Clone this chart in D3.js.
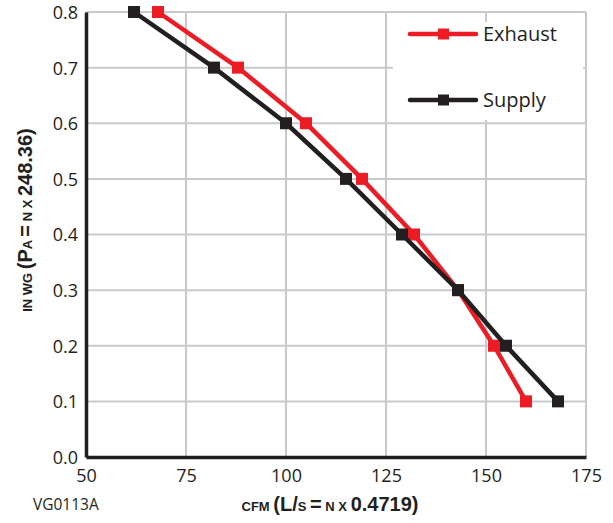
<!DOCTYPE html>
<html>
<head>
<meta charset="utf-8">
<script src="https://cdn.jsdelivr.net/npm/d3@7"></script>
<style>
  body { margin: 0; background: #fff; }
  text { font-family: "Open Sans", "Noto Sans", sans-serif; fill: #231f20; }
  .title { font-family: "Liberation Sans", Arial, sans-serif; font-weight: bold; }
</style>
</head>
<body>
<div id="chart"></div>
<script>
// values
var pressure = [0.8, 0.7, 0.6, 0.5, 0.4, 0.3, 0.2, 0.1];
var exhaustCfm = [68, 88, 105, 119, 132, 143, 152, 160];
var supplyCfm = [62, 82, 100, 115, 129, 143, 155, 168];
var xTicks = [50, 75, 100, 125, 150, 175];
var yTicks = [0.0, 0.1, 0.2, 0.3, 0.4, 0.5, 0.6, 0.7, 0.8];

var svgWidth = 613;
var svgHeight = 523;
var margin = { top: 12, right: 27, bottom: 66, left: 86 };
var width = svgWidth - margin.left - margin.right;
var height = svgHeight - margin.top - margin.bottom;

var red = "#ed1c24";
var black = "#231f20";

var svg = d3.select("#chart")
  .append("svg")
  .attr("width", svgWidth)
  .attr("height", svgHeight);

var chartGroup = svg.append("g")
  .attr("transform", `translate(${margin.left}, ${margin.top})`);

var x = d3.scaleLinear().domain([50, 175]).range([0, width]);
var y = d3.scaleLinear().domain([0, 0.8]).range([height, 0]);

// grid
chartGroup.append("g")
  .selectAll("line")
  .data(xTicks.slice(1))
  .enter()
  .append("line")
  .attr("x1", d => x(d)).attr("x2", d => x(d))
  .attr("y1", 0).attr("y2", height)
  .attr("stroke", "#c8c9cb")
  .attr("stroke-width", 2);

chartGroup.append("g")
  .selectAll("line")
  .data(yTicks.slice(1))
  .enter()
  .append("line")
  .attr("x1", 0).attr("x2", width)
  .attr("y1", d => y(d)).attr("y2", d => y(d))
  .attr("stroke", "#c8c9cb")
  .attr("stroke-width", 2);

// white box behind legend
chartGroup.append("rect")
  .attr("x", 307).attr("y", 10)
  .attr("width", 190).attr("height", 98)
  .attr("fill", "#fff");

// axes
var bottomAxis = d3.axisBottom(x).tickValues(xTicks).tickSize(0).tickPadding(12);
var leftAxis = d3.axisLeft(y).tickValues(yTicks).tickSize(0).tickPadding(8)
  .tickFormat(d3.format(".1f"));

var gx = chartGroup.append("g")
  .attr("transform", `translate(0, ${height})`)
  .call(bottomAxis);
var gy = chartGroup.append("g").call(leftAxis);

[gx, gy].forEach(function(g) {
  g.select(".domain").attr("stroke", black).attr("stroke-width", 3.5);
  g.selectAll("text").style("font-size", "18px").attr("fill", black);
});
gy.selectAll("text").attr("dy", "0.36em");

// series
var line = d3.line()
  .x(d => x(d.cfm))
  .y(d => y(d.p));

var series = [
  { name: "Exhaust", color: red, cfm: exhaustCfm },
  { name: "Supply", color: black, cfm: supplyCfm }
];

series.forEach(function(s) {
  var pts = pressure.map((p, i) => ({ p: p, cfm: s.cfm[i] }));
  chartGroup.append("path")
    .datum(pts)
    .attr("d", line)
    .attr("fill", "none")
    .attr("stroke", s.color)
    .attr("stroke-width", 4.5);
  chartGroup.selectAll(null)
    .data(pts)
    .enter()
    .append("rect")
    .attr("x", d => x(d.cfm) - 6)
    .attr("y", d => y(d.p) - 6)
    .attr("width", 12)
    .attr("height", 12)
    .attr("fill", s.color);
});

// legend
series.forEach(function(s, i) {
  var ly = 22 + i * 66;
  var lg = chartGroup.append("g").attr("transform", `translate(324, ${ly})`);
  lg.append("line")
    .attr("x1", 0).attr("x2", 66)
    .attr("stroke", s.color)
    .attr("stroke-width", 4.5)
    .attr("stroke-linecap", "round");
  lg.append("rect")
    .attr("x", 28).attr("y", -5.5)
    .attr("width", 11).attr("height", 11)
    .attr("fill", s.color);
  lg.append("text")
    .attr("x", 73)
    .attr("y", 0)
    .attr("dy", "0.36em")
    .style("font-size", "20px")
    .text(s.name);
});

// axis titles (small caps made by hand)
function smallCaps(t, parts) {
  parts.forEach(function(p) {
    t.append("tspan")
      .style("font-size", p[1] ? "13px" : "20px")
      .text(p[0]);
  });
}

var xt = svg.append("text")
  .attr("class", "title")
  .attr("x", 330)
  .attr("y", 511)
  .attr("text-anchor", "middle");
smallCaps(xt, [["CFM ", 1], ["(L/", 0], ["S ", 1], ["=", 0], [" N X ", 1], ["0.4719)", 0]]);

var yt = svg.append("text")
  .attr("class", "title")
  .attr("transform", "translate(32, 220) rotate(-90)")
  .attr("text-anchor", "middle");
smallCaps(yt, [["IN WG ", 1], ["(P", 0], ["A ", 1], ["=", 0], [" N X ", 1], ["248.36)", 0]]);

svg.append("text")
  .attr("x", 33)
  .attr("y", 510)
  .style("font-size", "15.5px")
  .text("VG0113A");
</script>
</body>
</html>
